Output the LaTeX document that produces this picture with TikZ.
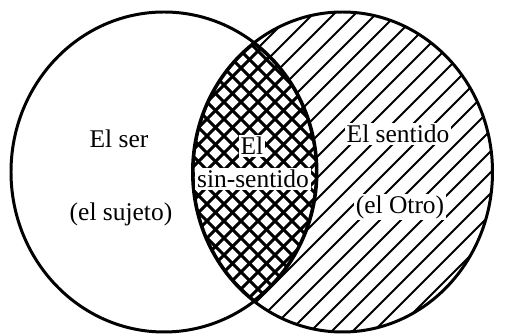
\documentclass[tikz,border=0pt]{standalone}
\usepackage{fontspec}
\setmainfont{Liberation Serif}
\begin{document}
\begin{tikzpicture}[x=0.02cm,y=-0.02cm]
\tikzstyle{every node}+=[font=\fontsize{14.5}{16}\selectfont, inner sep=1pt]
\tikzstyle{lbl}=[fill=white]
\useasboundingbox (0,0) rectangle (505,334);
% right side: simple hatching
\begin{scope}
\clip (342.5,172) ellipse (150 and 160);
\foreach \c in {180,201,...,860}
  \draw [black, line width=1.1pt] (\c-340,340) -- (\c,0);
\end{scope}
% overlap: cross hatching
\begin{scope}
\clip (342.5,172) ellipse (150 and 160);
\clip (164,172) ellipse (153 and 160);
\fill [white] (0,0) rectangle (505,334);
\foreach \c in {-150,-133,...,660} {
  \draw [black, line width=1.8pt] (\c-340,340) -- (\c,0);
  \draw [black, line width=1.8pt] (\c,0) -- (\c+340,340);
}
\draw [black, line width=2.4pt] (164,172) ellipse (153 and 160);
\draw [black, line width=2.4pt] (342.5,172) ellipse (150 and 160);
\end{scope}
\draw [black, line width=1.7pt] (164,172) ellipse (153 and 160);
\draw [black, line width=1.7pt] (342.5,172) ellipse (150 and 160);
% labels
\node (ser) at (119,139) {El ser};
\node (sujeto) at (121,214) {(el sujeto)};
\node [lbl] (el) at (252,146) {El};
\node [lbl] (sinsentido) at (253,179) {sin-sentido};
\node [lbl] (sentido) at (398,134) {El sentido};
\node [lbl] (otro) at (400,207) {(el Otro)};
\end{tikzpicture}
\end{document}
